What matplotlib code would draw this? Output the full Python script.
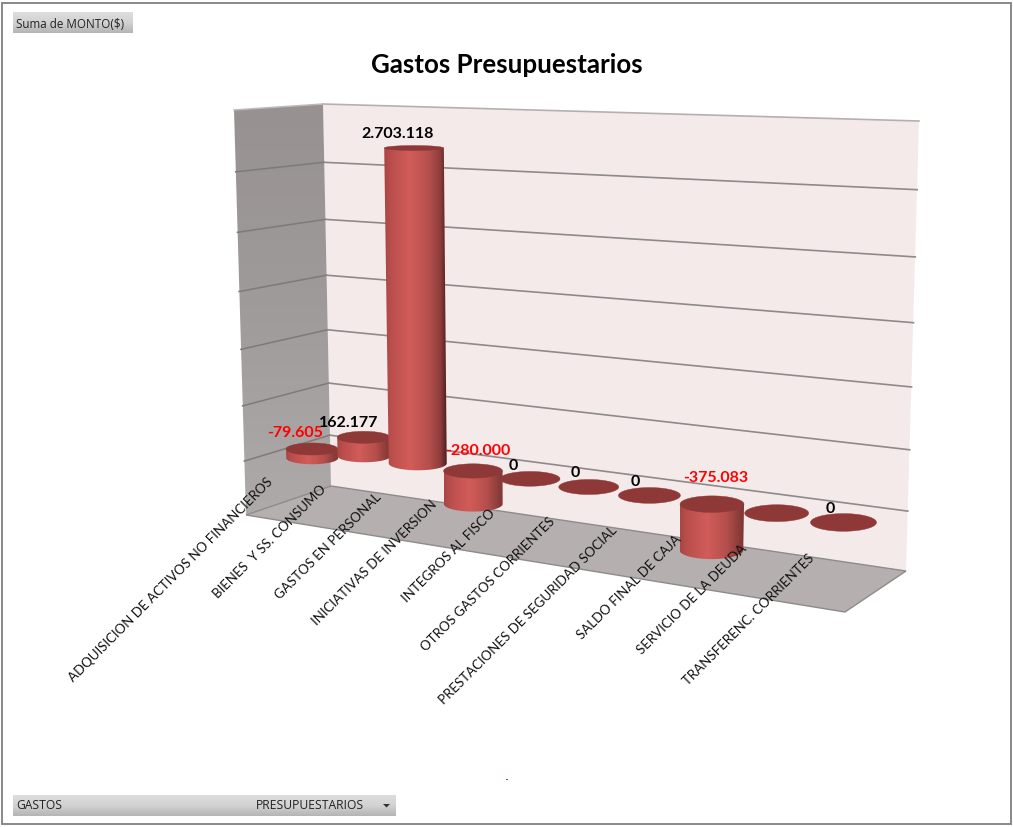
import numpy as np
import matplotlib
matplotlib.use("Agg")
import matplotlib.pyplot as plt
from matplotlib.path import Path
from matplotlib.patches import PathPatch, Polygon, Rectangle
from matplotlib.colors import LinearSegmentedColormap

# ---------- data ----------
categories = ["ADQUISICION DE ACTIVOS NO FINANCIEROS", "BIENES  Y SS. CONSUMO",
              "GASTOS EN PERSONAL", "INICIATIVAS DE INVERSION", "INTEGROS AL FISCO",
              "OTROS GASTOS CORRIENTES", "PRESTACIONES DE SEGURIDAD SOCIAL",
              "SALDO FINAL DE CAJA", "SERVICIO DE LA DEUDA", "TRANSFERENC. CORRIENTES"]
values = [-79605, 162177, 2703118, -280000, 0, 0, 0, -375083, 0, 0]
show_label = [True, True, True, True, True, True, True, True, False, True]
axis_ticks = [-500000, 0, 500000, 1000000, 1500000, 2000000, 2500000, 3000000]
title = "Gastos Presupuestarios"

# ---------- layout: label offsets and cylinder radii in pixels ----------
label_dx = [-17, -15, -16, 5, -17, -14, -14, 4, 0, -13]
label_dy = [-17, -15, -15, -21, -14, -15, -14, -27, 0, -14]
radius_x = [26, 26.5, 29, 29.5, 30, 30, 31, 32, 32, 33]

W, H = 1013, 828
LATO = ["Lato", "DejaVu Sans"]
UI = ["Open Sans", "DejaVu Sans"]
fig = plt.figure(figsize=(W / 100, H / 100), dpi=100, facecolor="white")
ax = fig.add_axes([0, 0, 1, 1])
ax.set_axis_off()

GROW = 1.04e-8


# ---------- perspective scale of the 3-D chart ----------
def project(t, v):
    """category index t and value v -> pixel position on the mid-depth plane"""
    base_x = (312 + 46.8 * t) / (1 - 0.01453 * t)
    zero_y = 450 + 6.9 * t + 0.14 * t * t
    scale = (0.1143 + 0.00118 * t) / 1000
    x = 550 + (base_x - 550) * (1 + GROW * v)
    return x, zero_y - scale * v


def radii(t, y, v):
    rx = radius_x[t] * (1 + GROW * v)
    return rx, rx * 0.000492 * (y + 21)


def wall_frac(v):
    f = (v - axis_ticks[-1]) / (axis_ticks[0] - axis_ticks[-1])
    return f + 0.08 * f * (1 - f)


def wall_pt(edge, v):
    f = wall_frac(v)
    f_x = (v - axis_ticks[-1]) / (axis_ticks[0] - axis_ticks[-1])
    return edge[0] + (edge[2] - edge[0]) * f_x, edge[1] + (edge[3] - edge[1]) * f


def gradient(patch, stops, horizontal, zorder, box):
    cmap = LinearSegmentedColormap.from_list("g", stops)
    g = np.linspace(0, 1, 256)
    arr = g[None, :] if horizontal else g[:, None]
    im = ax.imshow(arr, cmap=cmap, extent=box, origin="upper", aspect="auto",
                   zorder=zorder, interpolation="bilinear", vmin=0, vmax=1)
    im.set_clip_path(patch)


# ---------- walls ----------
SIDE_F, SIDE_B = (234, 111, 246, 516), (323, 105, 331, 487)
BACK_R = (919, 122, 906, 572)
FLOOR_FR = (845, 613)

side_pts = [(SIDE_F[0], SIDE_F[1]), (SIDE_B[0], SIDE_B[1]), (SIDE_B[2], SIDE_B[3]), (SIDE_F[2], SIDE_F[3])]
back_pts = [(SIDE_B[0], SIDE_B[1]), (BACK_R[0], BACK_R[1]), (BACK_R[2], BACK_R[3]), (SIDE_B[2], SIDE_B[3])]
floor_pts = [(SIDE_F[2], SIDE_F[3]), (SIDE_B[2], SIDE_B[3]), (BACK_R[2], BACK_R[3]), FLOOR_FR]

ax.add_patch(Polygon(back_pts, closed=True, fc="#f5eaea", ec="none", zorder=1))
p = Polygon(side_pts, closed=True, fc="none", ec="none", zorder=1.2)
ax.add_patch(p)
gradient(p, ["#979191", "#a09b9b", "#aeaaaa"], False, 1.1, (234, 331, 516, 105))
ax.add_patch(Polygon(floor_pts, closed=True, fc="#b5afaf", ec="#8f8b8b", lw=1, zorder=1.3))

for v in axis_ticks[1:]:
    ls = wall_pt(SIDE_F, v)
    lb = wall_pt(SIDE_B, v)
    rb = wall_pt(BACK_R, v)
    top = v == axis_ticks[-1]
    ax.plot([ls[0], lb[0]], [ls[1], lb[1]], color="#bdb9b9" if top else "#7e7a7a", lw=1.1, zorder=1.4)
    ax.plot([lb[0], rb[0]], [lb[1], rb[1]], color="#b5b0b0" if top else "#8e8a8a", lw=1.2, zorder=1.4)

# ---------- cylinders ----------
TOP_COLOR = "#8e3937"
z = 2.0
theta = np.linspace(0, np.pi, 60)
for t, v in enumerate(values):
    x0, y0 = project(t, 0)
    xv, yv = project(t, v)
    xtop, ytop, vtop = (xv, yv, v) if v >= 0 else (x0, y0, 0)
    xbot, ybot, vbot = (x0, y0, 0) if v >= 0 else (xv, yv, v)
    rxt, ryt = radii(t, ytop, vtop)
    rxb, ryb = radii(t, ybot, vbot)
    if v != 0:
        # body outline: along the front of the base, then back along the top ellipse
        front_x = xbot - rxb * np.cos(theta)
        front_y = ybot + ryb * np.sin(theta)
        top_x = xtop + rxt * np.cos(theta)
        top_y = ytop + ryt * np.sin(theta) * 0.2
        verts = np.column_stack([np.r_[front_x, top_x], np.r_[front_y, top_y]])
        verts = np.vstack([verts, verts[0]])
        codes = [Path.MOVETO] + [Path.LINETO] * (len(verts) - 2) + [Path.CLOSEPOLY]
        body = PathPatch(Path(verts, codes), fc="none", ec="none", transform=ax.transData)
        ax.add_patch(body)
        tall = min(abs(v) / 1500000, 1)
        right = np.array([0x8a, 0x3a, 0x38]) * (1 - tall) + np.array([0x4e, 0x1e, 0x1e]) * tall
        right = tuple(right / 255)
        stops = [(0, "#a84644"), (0.12, "#bb4f4d"), (0.42, "#d25c59"), (0.72, "#b44f4c"),
                 (0.9, "#8d3d3b"), (1, right)]
        gradient(body, stops, True, z, (min(xtop - rxt, xbot - rxb), max(xtop + rxt, xbot + rxb),
                                        ybot + ryb + 1, ytop - ryt - 1))
    ell = np.linspace(0, 2 * np.pi, 90)
    ax.fill(xtop + rxt * np.cos(ell), ytop + ryt * np.sin(ell), color=TOP_COLOR, lw=0.3, zorder=z + 0.1)
    z += 1

    if show_label[t]:
        txt = f"{v:,}".replace(",", ".")
        ax.text(xtop + label_dx[t], ytop + label_dy[t], txt, ha="center", va="center",
                family=LATO, fontweight="bold", fontsize=11.5,
                color="#ff0000" if v < 0 else "#000000", zorder=30)

    # category label along the floor's front edge, drawn over the cylinders
    ax.text(x0 - 41 + 1.1 * t, y0 + 30 + 0.3 * t, categories[t], rotation=45,
            rotation_mode="anchor", ha="right", va="center", family=LATO,
            fontsize=9.5, color="#111111", zorder=28)

# ---------- title ----------
ax.text(507, 65, title, ha="center", va="center", family=LATO, fontweight="bold",
        fontsize=18.6, color="#000000", zorder=30)


# ---------- field buttons and frame ----------
def button(x0, y0, x1, y1):
    r = Rectangle((x0, y0), x1 - x0, y1 - y0, fc="none", ec="none")
    ax.add_patch(r)
    gradient(r, ["#dedede", "#d2d2d2", "#b4b4b4"], False, 20, (x0, x1, y1, y0))


button(13, 13, 133, 34)
ax.text(16, 24, "Suma de MONTO($)", ha="left", va="center", family=UI,
        fontsize=8.4, color="#222222", zorder=21)
button(13, 796, 396, 817)
ax.text(16, 806, "GASTOS", ha="left", va="center", family=UI,
        fontsize=8.7, color="#222222", zorder=21)
ax.text(256, 806, "PRESUPUESTARIOS", ha="left", va="center", family=UI,
        fontsize=8.7, color="#222222", zorder=21)
ax.add_patch(Polygon([(383, 805), (390, 805), (386.5, 808.5)], closed=True, fc="#333333", ec="none", zorder=21))
ax.add_patch(Rectangle((506, 780), 2, 1, fc="#a04040", ec="none", zorder=21))
ax.add_patch(Rectangle((1.5, 3.5), 1009, 822, fc="none", ec="#7f7f7f", lw=1.3, zorder=25))

ax.set_xlim(0, W)
ax.set_ylim(H, 0)
fig.savefig("out.png", dpi=100, facecolor="white")
